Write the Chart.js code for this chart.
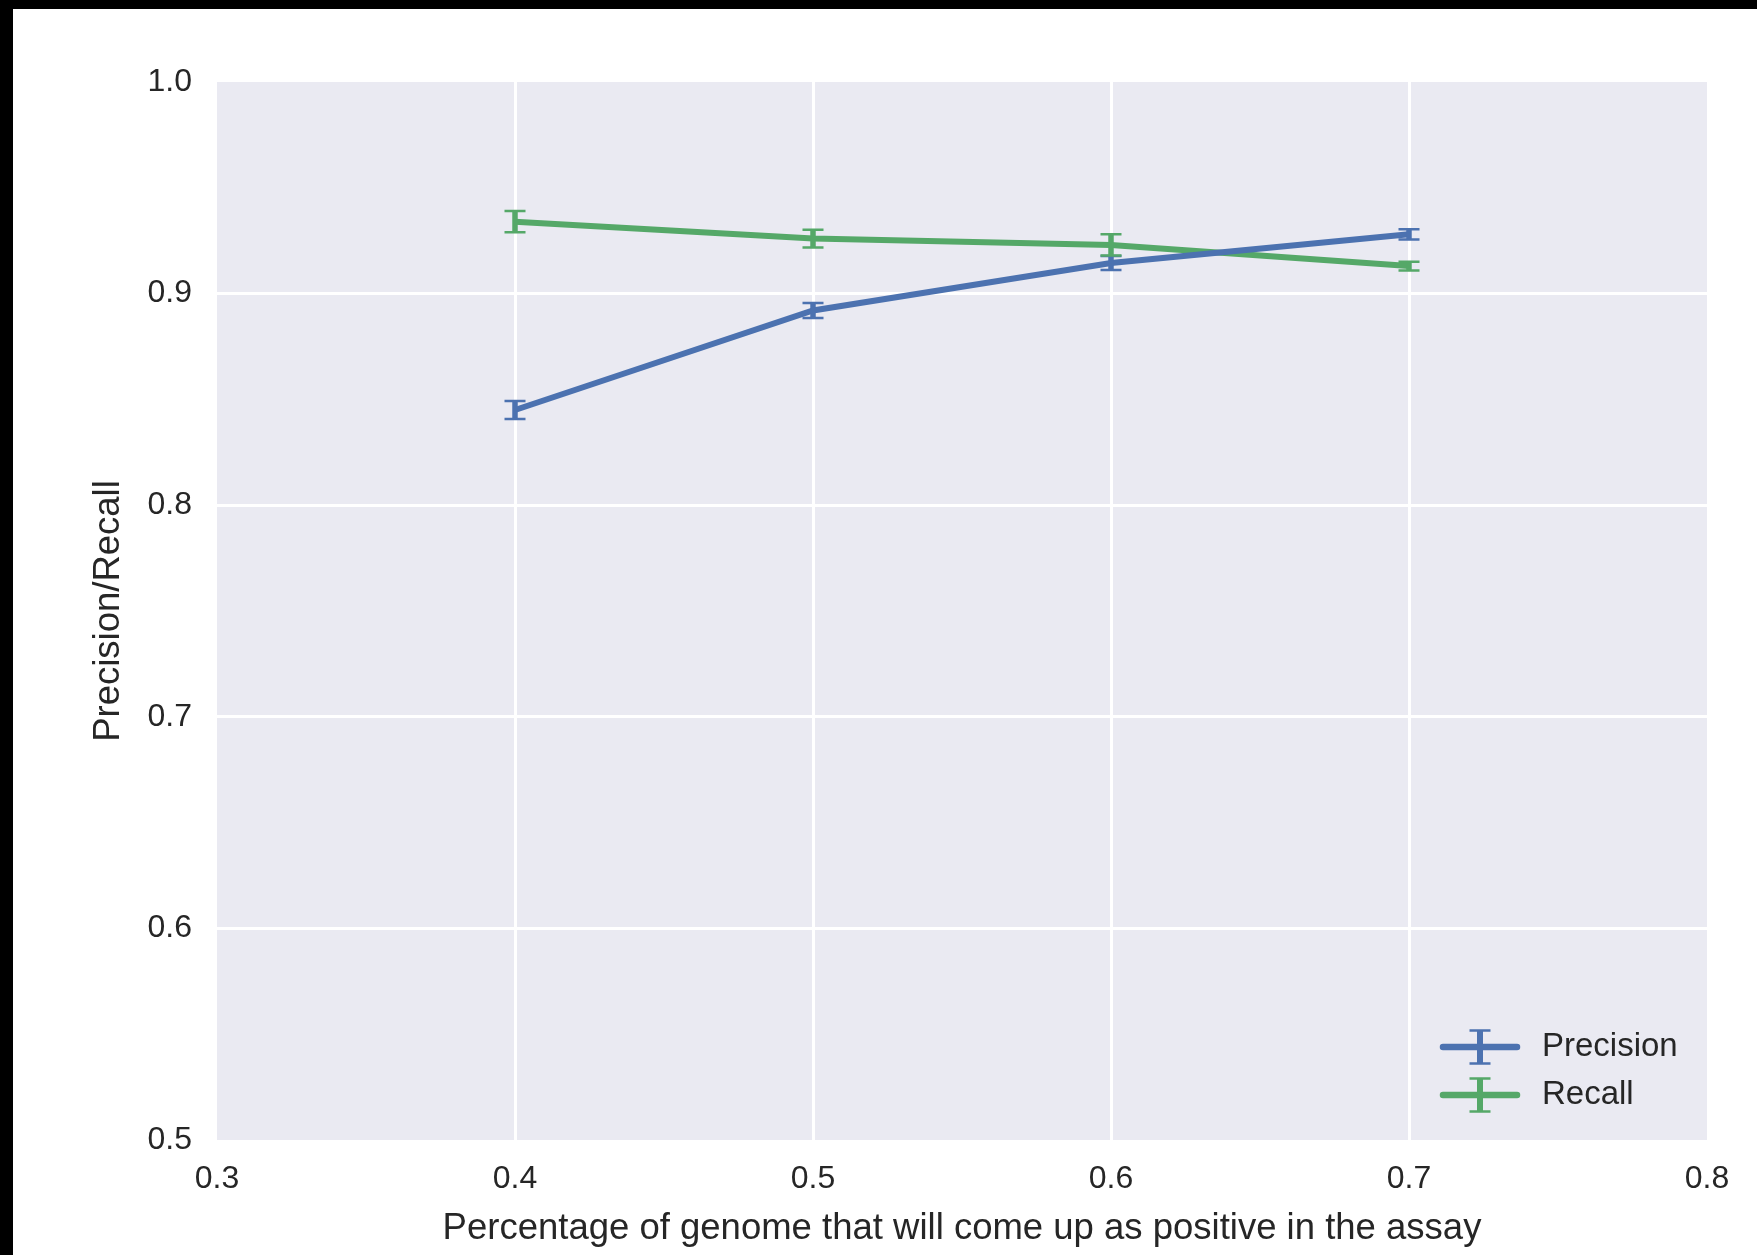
<!DOCTYPE html>
<html>
<head>
<meta charset="utf-8">
<script src="https://cdn.jsdelivr.net/npm/chart.js@4.4.1/dist/chart.umd.min.js"></script>
<style>
  html, body { margin: 0; padding: 0; background: #000; }
  body { width: 1757px; height: 1255px; position: relative; overflow: hidden; }
  #wrap { position: absolute; left: 13px; top: 9px; width: 1744px; height: 1246px; background: #fff; }
</style>
</head>
<body>
<div id="wrap"><canvas id="myChart" width="1744" height="1246"></canvas></div>
<script>
const xValues = [0.4, 0.5, 0.6, 0.7];
const precision = [0.845, 0.892, 0.9145, 0.928];
const precisionErr = [0.0043, 0.0035, 0.0033, 0.0024];
const recall = [0.934, 0.926, 0.923, 0.913];
const recallErr = [0.005, 0.0042, 0.005, 0.0021];
const seriesNames = ["Precision", "Recall"];
const seriesColors = ["#4c72b0", "#55a868"];

const textColor = "#262626";
const fontFamily = "'Liberation Sans', Arial, sans-serif";

function points(ys) {
  return xValues.map((x, i) => ({ x: x, y: ys[i] }));
}

// white grid, but none on the frame edges
function gridColor(c) {
  const n = c.scale.ticks.length;
  return c.index === 0 || c.index === n - 1 ? "rgba(0,0,0,0)" : "#ffffff";
}

// background of the axes area
const bgPlugin = {
  id: "bg",
  beforeDraw(chart) {
    const { ctx, chartArea: a } = chart;
    ctx.save();
    ctx.fillStyle = "#eaeaf2";
    ctx.fillRect(a.left, a.top, a.right - a.left, a.bottom - a.top);
    ctx.restore();
  },
};

function drawErr(ctx, px, y1, y2, color, w) {
  ctx.strokeStyle = color;
  ctx.lineCap = "butt";
  ctx.lineWidth = w;
  ctx.beginPath();
  ctx.moveTo(px, y1);
  ctx.lineTo(px, y2);
  ctx.stroke();
  ctx.lineWidth = 2.5;
  ctx.beginPath();
  ctx.moveTo(px - 10.5, y1);
  ctx.lineTo(px + 10.5, y1);
  ctx.moveTo(px - 10.5, y2);
  ctx.lineTo(px + 10.5, y2);
  ctx.stroke();
}

// error bars + legend
const errPlugin = {
  id: "errbars",
  afterDatasetsDraw(chart) {
    const { ctx, scales } = chart;
    chart.data.datasets.forEach((ds) => {
      ctx.save();
      ds.data.forEach((p, i) => {
        const e = ds.errors[i];
        const px = scales.x.getPixelForValue(p.x);
        const y1 = scales.y.getPixelForValue(p.y - e);
        const y2 = scales.y.getPixelForValue(p.y + e);
        drawErr(ctx, px, y1, y2, ds.borderColor, 5.5);
      });
      ctx.restore();
    });
  },
  afterDraw(chart) {
    const { ctx, chartArea: a } = chart;
    ctx.save();
    chart.data.datasets.forEach((ds, i) => {
      const y = a.bottom - 93 + i * 48;
      const x0 = a.right - 264;
      const x1 = a.right - 190;
      const cx = (x0 + x1) / 2;
      ctx.strokeStyle = ds.borderColor;
      ctx.lineCap = "round";
      ctx.lineWidth = 6.5;
      ctx.beginPath();
      ctx.moveTo(x0, y);
      ctx.lineTo(x1, y);
      ctx.stroke();
      drawErr(ctx, cx, y - 16.5, y + 16.5, ds.borderColor, 6);
      ctx.fillStyle = textColor;
      ctx.font = "33px " + fontFamily;
      ctx.textBaseline = "middle";
      ctx.textAlign = "left";
      ctx.fillText(ds.label, a.right - 165, y);
    });
    ctx.restore();
  },
};

const ctx = document.getElementById("myChart").getContext("2d");
const myChart = new Chart(ctx, {
  type: "line",
  data: {
    datasets: [
      {
        label: seriesNames[0],
        data: points(precision),
        errors: precisionErr,
        borderColor: seriesColors[0],
        backgroundColor: seriesColors[0],
        borderWidth: 6,
        pointRadius: 0,
        tension: 0,
      },
      {
        label: seriesNames[1],
        data: points(recall),
        errors: recallErr,
        borderColor: seriesColors[1],
        backgroundColor: seriesColors[1],
        borderWidth: 6,
        pointRadius: 0,
        tension: 0,
      },
    ],
  },
  options: {
    responsive: false,
    animation: false,
    layout: { padding: { left: 0, right: 50, top: 73, bottom: 0 } },
    plugins: { legend: { display: false }, tooltip: { enabled: false } },
    scales: {
      x: {
        type: "linear",
        min: 0.3,
        max: 0.8,
        afterFit(scale) { scale.height = 115; },
        ticks: {
          stepSize: 0.1,
          padding: 20,
          color: textColor,
          font: { size: 32, family: fontFamily },
          callback: (v) => v.toFixed(1),
        },
        grid: { color: gridColor, lineWidth: 3, drawTicks: false },
        border: { display: false },
        title: {
          display: true,
          text: "Percentage of genome that will come up as positive in the assay",
          color: textColor,
          font: { size: 36.5, family: fontFamily },
          padding: { top: 0, bottom: 4 },
        },
      },
      y: {
        min: 0.5,
        max: 1.0,
        afterFit(scale) { scale.width = 204; },
        ticks: {
          stepSize: 0.1,
          padding: 25,
          color: textColor,
          font: { size: 32, family: fontFamily },
          callback: (v) => v.toFixed(1),
        },
        grid: { color: gridColor, lineWidth: 3, drawTicks: false },
        border: { display: false },
        title: {
          display: true,
          text: "Precision/Recall",
          color: textColor,
          font: { size: 36.5, family: fontFamily },
          padding: { top: 74, bottom: 0 },
        },
      },
    },
  },
  plugins: [bgPlugin, errPlugin],
});
</script>
</body>
</html>
